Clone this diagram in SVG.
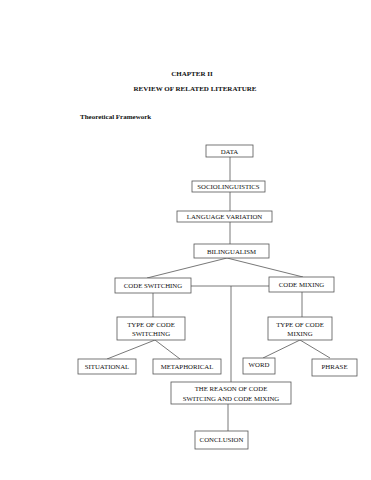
<svg xmlns="http://www.w3.org/2000/svg" width="371" height="480" viewBox="0 0 371 480">
<style>
.b{fill:#fff;stroke:#555;stroke-width:0.8}
.t{font-family:"Liberation Serif","Times New Roman",serif;font-size:6.8px;fill:#111;text-anchor:middle}
.h{font-family:"Liberation Serif","Times New Roman",serif;font-size:7px;font-weight:bold;fill:#111}
.c{stroke:#555;stroke-width:0.8;fill:none}
</style>
<rect width="371" height="480" fill="#fff"/>
<text class="h" x="192" y="76" text-anchor="middle">CHAPTER II</text>
<text class="h" x="195" y="91" text-anchor="middle">REVIEW OF RELATED LITERATURE</text>
<text class="h" x="80" y="119">Theoretical Framework</text>
<g id="connectors">
<line class="c" x1="230" y1="157" x2="230" y2="181"/>
<line class="c" x1="230" y1="192" x2="230" y2="211"/>
<line class="c" x1="230" y1="222" x2="230" y2="244"/>
<polyline class="c" points="147,278 227,258 303,277"/>
<line class="c" x1="191" y1="286" x2="269" y2="286"/>
<line class="c" x1="231" y1="286" x2="231" y2="382"/>
<line class="c" x1="153" y1="293" x2="153" y2="317"/>
<line class="c" x1="302" y1="292" x2="302" y2="317"/>
<polyline class="c" points="107,359 155,340 180,359"/>
<polyline class="c" points="263,358 300,340 330,358"/>
<line class="c" x1="228" y1="404" x2="228" y2="431"/>
</g>
<g id="data"><rect class="b" x="206" y="145" width="47" height="12"/><text class="t" x="229.5" y="153.5">DATA</text></g>
<g id="socio"><rect class="b" x="192" y="181" width="73" height="11"/><text class="t" x="228.5" y="189">SOCIOLINGUISTICS</text></g>
<g id="langvar"><rect class="b" x="177" y="211" width="95" height="11"/><text class="t" x="224.5" y="219">LANGUAGE VARIATION</text></g>
<g id="bilingualism"><rect class="b" x="194" y="244" width="75" height="14"/><text class="t" x="231.5" y="253.5">BILINGUALISM</text></g>
<g id="codeswitching"><rect class="b" x="115" y="278" width="76" height="15"/><text class="t" x="153" y="288">CODE SWITCHING</text></g>
<g id="codemixing"><rect class="b" x="269" y="277" width="65" height="15"/><text class="t" x="301.5" y="287">CODE MIXING</text></g>
<g id="typecs"><rect class="b" x="117" y="317" width="68" height="23"/><text class="t" x="151" y="327">TYPE OF CODE</text><text class="t" x="151" y="336">SWITCHING</text></g>
<g id="typecm"><rect class="b" x="268" y="317" width="64" height="23"/><text class="t" x="300" y="327">TYPE OF CODE</text><text class="t" x="300" y="336">MIXING</text></g>
<g id="situational"><rect class="b" x="78" y="359" width="58" height="15"/><text class="t" x="107" y="369">SITUATIONAL</text></g>
<g id="metaphorical"><rect class="b" x="153" y="359" width="68" height="15"/><text class="t" x="187" y="369">METAPHORICAL</text></g>
<g id="word"><rect class="b" x="243" y="358" width="32" height="16"/><text class="t" x="259" y="367">WORD</text></g>
<g id="phrase"><rect class="b" x="312" y="359" width="45" height="17"/><text class="t" x="334.5" y="369">PHRASE</text></g>
<g id="reason"><rect class="b" x="171" y="382" width="120" height="22"/><text class="t" x="231" y="391">THE REASON OF CODE</text><text class="t" x="231" y="401">SWITCING AND CODE MIXING</text></g>
<g id="conclusion"><rect class="b" x="195" y="431" width="53" height="18"/><text class="t" x="221.5" y="442">CONCLUSION</text></g>
</svg>
